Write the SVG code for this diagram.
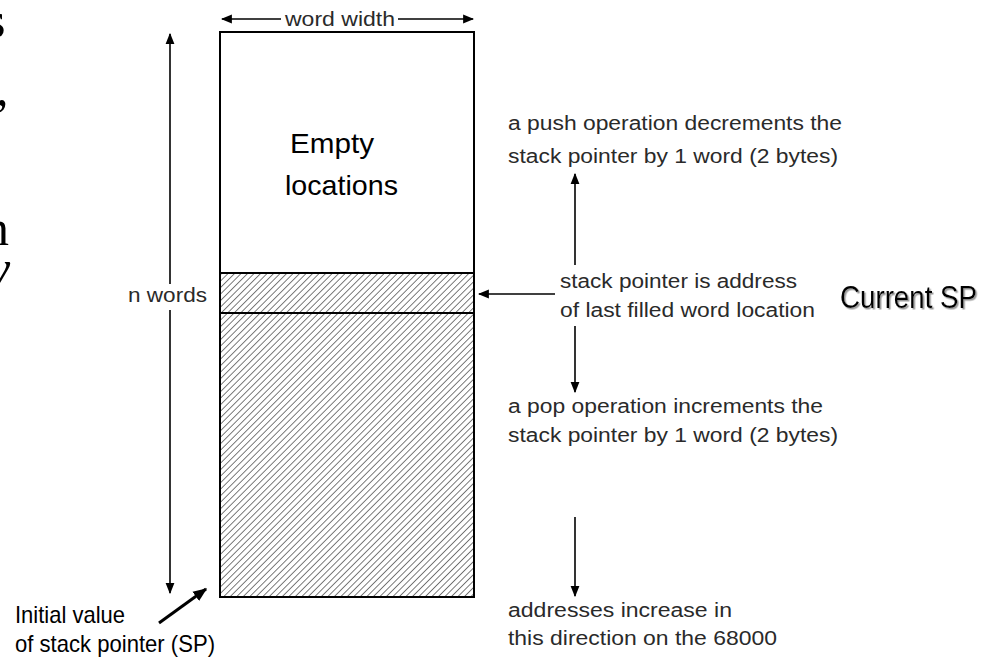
<svg xmlns="http://www.w3.org/2000/svg" width="990" height="663" viewBox="0 0 990 663">
<defs>
<pattern id="hatch" patternUnits="userSpaceOnUse" width="4.6" height="4.6" patternTransform="rotate(45)">
<rect width="4.6" height="4.6" fill="#fff"/>
<line x1="0" y1="0" x2="0" y2="4.6" stroke="#222" stroke-width="1.2"/>
</pattern>
<marker id="ah" viewBox="0 0 10 10" refX="9" refY="5" markerWidth="11" markerHeight="11" markerUnits="userSpaceOnUse" orient="auto">
<path d="M0,1 L10,5 L0,9 Z" fill="#000"/>
</marker>
<marker id="ahb" viewBox="0 0 10 10" refX="9" refY="5" markerWidth="14" markerHeight="14" markerUnits="userSpaceOnUse" orient="auto">
<path d="M0,1 L10,5 L0,9 Z" fill="#000"/>
</marker>
<filter id="sh" x="-5%" y="-10%" width="110%" height="130%">
<feDropShadow dx="1.5" dy="1.5" stdDeviation="0.6" flood-color="#999"/>
</filter>
</defs>
<style>
.lbl{font-family:"Liberation Sans",Arial,sans-serif;font-size:20px;fill:#2a2a2a}
.big{font-family:"Liberation Sans",Arial,sans-serif;fill:#000}
.nar{font-family:"Liberation Sans",Arial,sans-serif;fill:#000}
.ser{font-family:"Liberation Serif","Times New Roman",serif;font-size:50px;fill:#000}
.conn{stroke:#000;stroke-width:1.6;fill:none}
</style>
<rect width="990" height="663" fill="#fff"/>
<g id="slide-fragments">
<text class="ser" x="-14" y="37">s</text>
<text class="ser" x="-4" y="105">,</text>
<text class="ser" x="-16" y="245">n</text>
<text class="ser" x="-12" y="285" font-style="italic">y</text>
</g>
<g id="stack">
<rect x="220" y="32" width="254" height="241" fill="#fff" stroke="#000" stroke-width="2"/>
<rect x="220" y="273" width="254" height="324" fill="url(#hatch)" stroke="#000" stroke-width="2"/>
<line x1="220" y1="313" x2="474" y2="313" stroke="#000" stroke-width="2"/>
<text class="big" x="290" y="153" font-size="28" textLength="84" lengthAdjust="spacingAndGlyphs">Empty</text>
<text class="big" x="285" y="195" font-size="28" textLength="113" lengthAdjust="spacingAndGlyphs">locations</text>
</g>
<g id="word-width">
<text class="lbl" x="285" y="26" textLength="110" lengthAdjust="spacingAndGlyphs">word width</text>
</g>
<g id="n-words">
<text class="lbl" x="128" y="302" textLength="79" lengthAdjust="spacingAndGlyphs">n words</text>
</g>
<g id="push-label">
<text class="lbl" x="508" y="130" textLength="334" lengthAdjust="spacingAndGlyphs">a push operation decrements the</text>
<text class="lbl" x="508" y="163" textLength="330" lengthAdjust="spacingAndGlyphs">stack pointer by 1 word (2 bytes)</text>
</g>
<g id="sp-label">
<text class="lbl" x="560" y="288" textLength="237" lengthAdjust="spacingAndGlyphs">stack pointer is address</text>
<text class="lbl" x="560" y="317" textLength="255" lengthAdjust="spacingAndGlyphs">of last filled word location</text>
</g>
<g id="pop-label">
<text class="lbl" x="508" y="413" textLength="315" lengthAdjust="spacingAndGlyphs">a pop operation increments the</text>
<text class="lbl" x="508" y="442" textLength="330" lengthAdjust="spacingAndGlyphs">stack pointer by 1 word (2 bytes)</text>
</g>
<g id="addr-label">
<text class="lbl" x="508" y="617" textLength="224" lengthAdjust="spacingAndGlyphs">addresses increase in</text>
<text class="lbl" x="508" y="645" textLength="269" lengthAdjust="spacingAndGlyphs">this direction on the 68000</text>
</g>
<g id="current-sp">
<text class="nar" x="840" y="308" font-size="31" textLength="137" lengthAdjust="spacingAndGlyphs" filter="url(#sh)">Current SP</text>
</g>
<g id="initial-sp">
<text class="nar" x="15" y="623" font-size="24" textLength="110" lengthAdjust="spacingAndGlyphs">Initial value</text>
<text class="nar" x="15" y="652" font-size="24" textLength="200" lengthAdjust="spacingAndGlyphs">of stack pointer (SP)</text>
</g>
<g id="connectors">
<line class="conn" x1="281" y1="19" x2="222" y2="19" marker-end="url(#ah)"/>
<line class="conn" x1="398" y1="19" x2="473" y2="19" marker-end="url(#ah)"/>
<line class="conn" x1="170" y1="284" x2="170" y2="34" marker-end="url(#ah)"/>
<line class="conn" x1="170" y1="310" x2="170" y2="593" marker-end="url(#ah)"/>
<line class="conn" x1="575" y1="265" x2="575" y2="174" marker-end="url(#ah)"/>
<line class="conn" x1="555" y1="294" x2="479" y2="294" marker-end="url(#ah)"/>
<line class="conn" x1="575" y1="326" x2="575" y2="392" marker-end="url(#ah)"/>
<line class="conn" x1="575" y1="517" x2="575" y2="596" marker-end="url(#ah)"/>
<line x1="159" y1="623" x2="206" y2="589" stroke="#000" stroke-width="3" marker-end="url(#ahb)"/>
</g>
</svg>
